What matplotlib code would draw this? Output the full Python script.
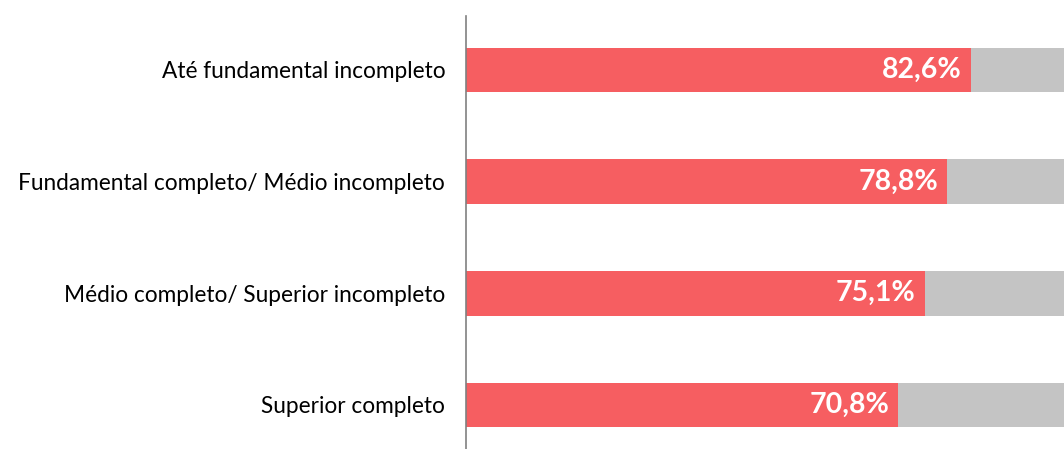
import matplotlib.pyplot as plt

categories = ["Até fundamental incompleto",
              "Fundamental completo/ Médio incompleto",
              "Médio completo/ Superior incompleto",
              "Superior completo"]
values = [82.6, 78.8, 75.1, 70.8]
labels = ["82,6%", "78,8%", "75,1%", "70,8%"]

red = "#F65E61"
grey = "#C4C4C4"

plt.rcParams['font.family'] = ['Lato', 'DejaVu Sans']

fig = plt.figure(figsize=(10.64, 4.49), dpi=100)
ax = fig.add_axes([466 / 1064, 0, 1 - 466 / 1064, 1 - 16 / 449])

pos = range(len(categories))
ax.barh(pos, values, height=0.4, color=red)
ax.barh(pos, [100 - v for v in values], left=values, height=0.4, color=grey)

for p, v, lab in zip(pos, values, labels):
    ax.text(v - 1.5, p, lab, ha='right', va='center', color='white',
            fontsize=20.5, fontweight='bold')

ax.set_xlim(0, 97.9)
ax.set_ylim(3.394, -0.483)
ax.set_yticks(list(pos))
ax.set_yticklabels(categories, fontsize=16.3)
ax.tick_params(axis='y', length=0, pad=15)
ax.set_xticks([])
for s in ['top', 'right', 'bottom']:
    ax.spines[s].set_visible(False)
ax.spines['left'].set_color('#808080')
ax.spines['left'].set_linewidth(1.2)

fig.savefig("out.png", dpi=100)
